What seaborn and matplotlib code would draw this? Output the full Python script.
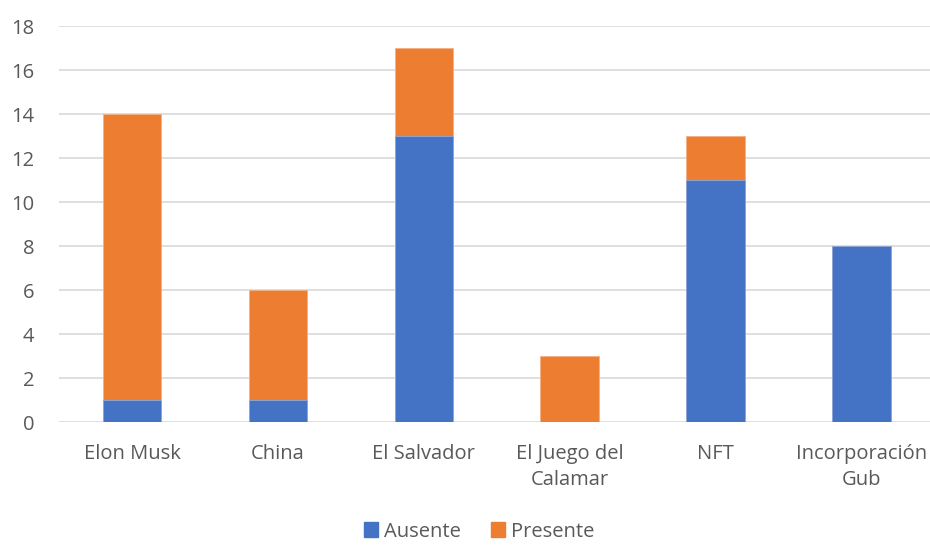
import matplotlib
matplotlib.use('Agg')
import matplotlib.pyplot as plt
import matplotlib.patches as mpatches
import seaborn as sns
import pandas as pd

categorias = ['Elon Musk', 'China', 'El Salvador', 'El Juego del\nCalamar', 'NFT', 'Incorporación\nGub']
ausente = [1, 1, 13, 0, 11, 8]
presente = [13, 5, 4, 3, 2, 0]

azul = '#4472C4'
naranja = '#ED7D31'
gris_texto = '#595959'

df = pd.DataFrame({'Tema': categorias, 'Ausente': ausente, 'Presente': presente})
df['Total'] = df['Ausente'] + df['Presente']

sns.set_style('white')
plt.rcParams['font.family'] = ['Open Sans', 'DejaVu Sans']

fig = plt.figure(figsize=(9.3, 5.45), dpi=100)
ax = fig.add_axes([59 / 930, 1 - 422 / 545, 1 - 59 / 930, (422 - 26) / 545])

# apilado: total en naranja, luego Ausente encima en azul
sns.barplot(data=df, x='Tema', y='Total', color=naranja, width=0.40, saturation=1, ax=ax,
            zorder=3, linewidth=0.6, edgecolor='#F4B183')
sns.barplot(data=df, x='Tema', y='Ausente', color=azul, width=0.40, saturation=1, ax=ax,
            zorder=3, linewidth=0.6, edgecolor='#8FAADC')

ax.set_ylim(0, 18)
ax.set_yticks(range(0, 19, 2))
ax.set_xlim(-0.5, 5.47)
ax.yaxis.grid(True, color='#D9D9D9', linewidth=1.2, zorder=0)
ax.set_axisbelow(True)
for s in ax.spines.values():
    s.set_visible(False)
ax.tick_params(axis='both', length=0, labelsize=14.5, labelcolor=gris_texto)
ax.tick_params(axis='y', pad=18)
ax.tick_params(axis='x', pad=16)
for lbl in ax.get_yticklabels():
    lbl.set_horizontalalignment('right')
for lbl in ax.get_xticklabels():
    lbl.set_linespacing(1.4)
ax.set_xlabel('')
ax.set_ylabel('')

handles = [mpatches.Patch(color=azul, label='Ausente'),
           mpatches.Patch(color=naranja, label='Presente')]
fig.legend(handles=handles, loc='lower center', bbox_to_anchor=(0.515, -0.027), ncol=2, frameon=False,
           fontsize=14.5, labelcolor=gris_texto, handlelength=0.7, handleheight=0.7,
           handletextpad=0.3, columnspacing=1.5)

fig.savefig('out.png', dpi=100)
